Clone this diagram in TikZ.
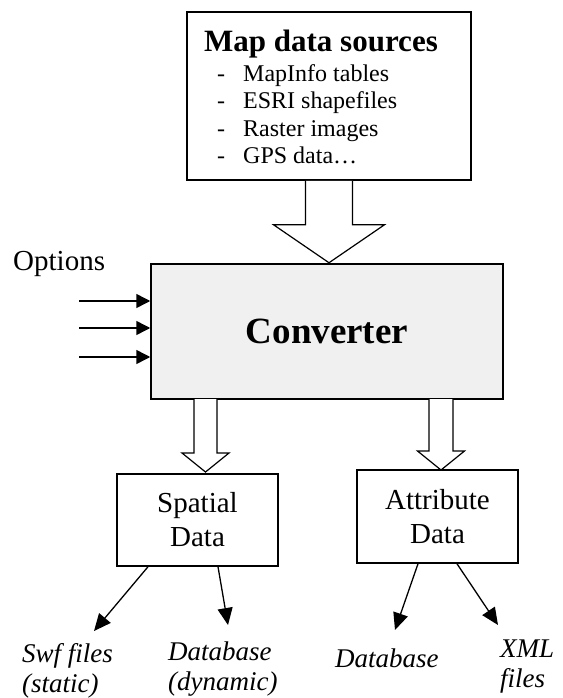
\documentclass[tikz,border=0pt]{standalone}
\usepackage{fontspec}
\setmainfont{Liberation Serif}
\usepackage{tikz}
\usetikzlibrary{arrows.meta}
\definecolor{convgray}{RGB}{240,240,240}
% block arrow: start, shaft half width, shaft length, head half width, head length
\newcommand{\hollowarrow}[5]{\draw[line width=1.2pt, fill=white] (#1) ++(-#2,0) -- ++(0,#3) -- ++({#2-#4},0) -- ++(#4,#5) -- ++(#4,-#5) -- ++({#2-#4},0) -- ++(0,-#3);}
\tikzset{
  box/.style={draw, line width=1.5pt, inner sep=0pt},
  inarrow/.style={-{Triangle[length=14pt,width=14pt]}, line width=1.5pt},
  outarrow/.style={-{Triangle[length=17pt,width=15pt]}, line width=1.3pt},
  outlabel/.style={font=\fontsize{27}{30}\selectfont\itshape, align=left, inner sep=0pt, anchor=base west},
  datalabel/.style={font=\fontsize{29}{34}\selectfont, align=center, inner sep=0pt},
}

\begin{document}
\begin{tikzpicture}[x=1pt, y=-1pt]
\useasboundingbox (0,0) rectangle (562,698);
% map data sources
\node[box, minimum width=284pt, minimum height=168pt] (src) at (329,96) {};
\node[font=\fontsize{31}{36}\selectfont\bfseries, inner sep=0pt, anchor=base] (title) at (321,52) {Map data sources};
\foreach \srcitem [count=\i] in {MapInfo tables, ESRI shapefiles, Raster images, GPS data…}{
  \node[font=\fontsize{24}{27}\selectfont, inner sep=0pt, anchor=base west] (dash\i) at (217,{55+27*\i}) {-};
  \node[font=\fontsize{24}{27}\selectfont, inner sep=0pt, anchor=base west] (srcitem\i) at (243,{55+27*\i}) {\srcitem};
}
% converter
\node[box, fill=convgray, minimum width=352pt, minimum height=135pt, font=\fontsize{37}{40}\selectfont\bfseries] (conv) at (327,331.5) {Converter};
\hollowarrow{src.south}{23.5}{44}{55.5}{38}
% options
\node[font=\fontsize{29}{34}\selectfont, inner sep=0pt, anchor=base west] (opt) at (13,270) {Options};
\foreach \dy in {-30.5,-3.5,25.5}
  \draw[inarrow] ([shift={(-71,\dy)}]conv.west) -- ([shift={(0,\dy)}]conv.west);
% outputs
\node[box, minimum width=161pt, minimum height=92pt, datalabel] (sp) at (197.5,520) {Spatial\\Data};
\node[box, minimum width=161pt, minimum height=93pt, datalabel] (at) at (437.5,516.5) {Attribute\\Data};
\coordinate (spIn) at (205.5,399);
\coordinate (atIn) at (441,399);
\hollowarrow{spIn}{11.5}{54}{23.5}{19}
\hollowarrow{atIn}{12}{52}{23.5}{19}
\node[outlabel] (swf) at (22,692) {Swf files\\(static)};
\node[outlabel] (dyn) at (168,690) {Database\\(dynamic)};
\node[outlabel] (db) at (335,667) {Database};
\node[outlabel] (xml) at (500,687) {XML\\files};
\coordinate (swfEnd) at (94,631);
\coordinate (dynEnd) at (228,625);
\coordinate (dbEnd) at (395,630);
\coordinate (xmlEnd) at (498,625);
\draw[outarrow] ([xshift=-49.5pt]sp.south) -- (swfEnd);
\draw[outarrow] ([xshift=20.5pt]sp.south) -- (dynEnd);
\draw[outarrow] ([xshift=-19.5pt]at.south) -- (dbEnd);
\draw[outarrow] ([xshift=19.5pt]at.south) -- (xmlEnd);
\end{tikzpicture}
\end{document}
